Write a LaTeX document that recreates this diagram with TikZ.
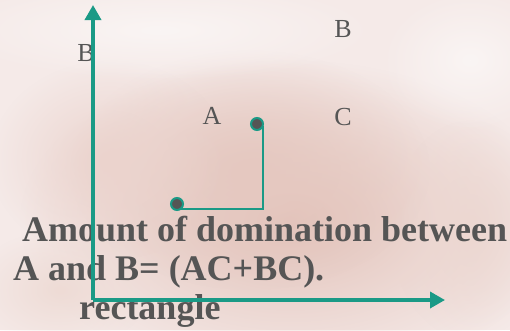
\documentclass[tikz,border=0pt]{standalone}
\usepackage{fontspec}
\setmainfont{Liberation Serif}
\usetikzlibrary{arrows.meta,fadings}
\definecolor{teal1}{HTML}{1A9A86}
\definecolor{txtgray}{HTML}{555555}
\definecolor{bglight}{HTML}{F5EAE8}
\definecolor{bgpink}{HTML}{DDB6AB}
\tikzfading[name=blob, inner color=transparent!0, outer color=transparent!100]
\tikzset{
  axis/.style={draw=teal1, line width=3.5pt, -{Triangle[length=15pt,width=16pt]}},
  link/.style={draw=teal1, line width=1.8pt},
  dot/.style={circle, fill=txtgray, draw=teal1, line width=2pt, minimum size=12pt, inner sep=0pt},
  lbl/.style={text=txtgray, font=\fontsize{26}{28}\selectfont, anchor=base, inner sep=0pt},
  bigtxt/.style={text=txtgray, font=\fontsize{36}{40}\selectfont\bfseries, anchor=base west, inner sep=0pt}
}
\begin{document}
\begin{tikzpicture}[x=1pt,y=-1pt]
\useasboundingbox (0,0) rectangle (510,330);
% background
\fill[bglight] (0,0) rectangle (510,330);
\fill[bgpink!85, path fading=blob] (290,220) ellipse (270 and 160);
\fill[bgpink!75, path fading=blob] (250,170) ellipse (180 and 120);
\fill[bgpink!60, path fading=blob] (110,160) ellipse (120 and 100);
\fill[bgpink!50, path fading=blob] (60,290) ellipse (90 and 60);
\fill[bgpink!55, path fading=blob] (470,230) ellipse (80 and 110);
\fill[white!50!bglight, path fading=blob] (160,30) ellipse (220 and 50);
\fill[white!50!bglight, path fading=blob] (470,60) ellipse (90 and 70);
% text
\node[bigtxt] (t1) at (22,241) {Amount of domination between};
\node[bigtxt] (t2) at (13,280) {A and B= (AC+BC).};
\node[bigtxt] (t3) at (79,319) {rectangle};
% labels
\node[lbl] (lB1) at (86,61) {B};
\node[lbl] (lA) at (212,124) {A};
\node[lbl] (lB2) at (343,37) {B};
\node[lbl] (lC) at (343,125) {C};
% axes
\coordinate (O) at (93,300);
\coordinate (ytip) at (93,5);
\coordinate (xtip) at (445,300);
\draw[axis] (O) -- (ytip);
\draw[axis] (O) -- (xtip);
% rectangle connector
\coordinate (q1) at (263,126);
\coordinate (q2) at (180,209);
\draw[link] (q1) |- (q2);
\node[dot] (p1) at (257,124) {};
\node[dot] (p2) at (177,204) {};
\end{tikzpicture}
\end{document}
